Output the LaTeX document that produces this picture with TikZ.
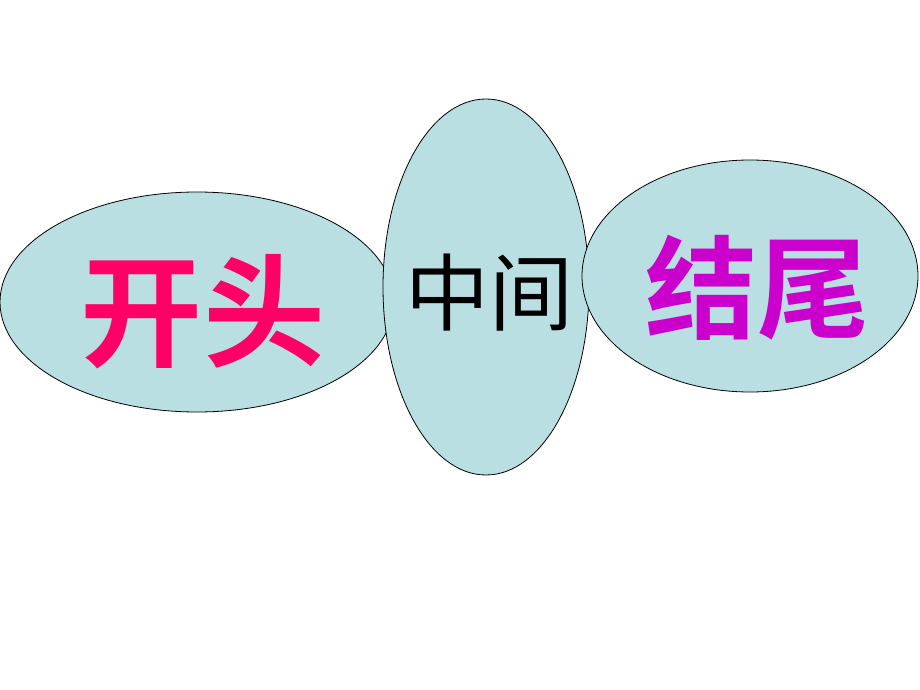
\documentclass[tikz,border=0pt]{standalone}
\usepackage{fontspec}
\newfontfamily\cjk{Noto Sans CJK SC}
\newfontfamily\cjkb{Noto Sans CJK SC Bold}
\definecolor{ellfill}{HTML}{B9DFE2}
\definecolor{pinkred}{HTML}{FF0066}
\definecolor{magen}{HTML}{CC00CC}
\begin{document}
\begin{tikzpicture}[x=1bp,y=-1bp]
\tikzset{ell/.style={draw=black,fill=ellfill,line width=0.8bp}}
\useasboundingbox (0,0) rectangle (920,690);
\fill[white] (0,0) rectangle (920,690);
\draw[ell] (197,302) ellipse [x radius=197, y radius=110];
\draw[ell] (486,287) ellipse [x radius=103, y radius=188];
\draw[ell] (750,276) ellipse [x radius=168, y radius=116];
\node[text=pinkred,font=\cjkb\fontsize{122bp}{122bp}\selectfont,inner sep=0] (start) at (203,312) {开头};
\node[text=black,font=\cjk\fontsize{84bp}{84bp}\selectfont,inner sep=0] (mid) at (489,293) {中间};
\node[text=magen,font=\cjkb\fontsize{112bp}{112bp}\selectfont,inner sep=0] (end) at (757,288) {结尾};
\end{tikzpicture}
\end{document}
